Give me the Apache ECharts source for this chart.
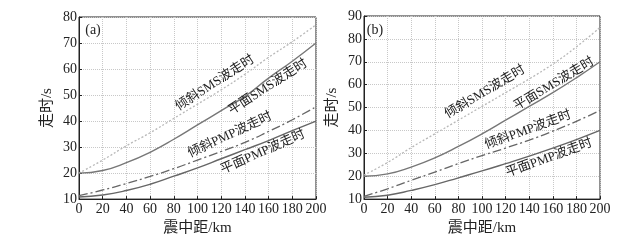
<!DOCTYPE html>
<html>
<head>
<meta charset="utf-8">
<script src="https://cdn.jsdelivr.net/npm/echarts@6/dist/echarts.min.js"></script>
<style>
  html, body { margin: 0; padding: 0; background: #fff; }
  #main { width: 632px; height: 241px; }
</style>
</head>
<body>
<div id="main"></div>
<script>
// epicentral distance, km
const dist = [0, 20, 40, 60, 80, 100, 120, 140, 160, 180, 200]

// panel (a) travel times, s
const aTiltSMS = [20, 25, 30.5, 35.5, 41, 46.5, 52, 58, 64.5, 70.5, 77]
const aFlatSMS = [20, 21, 24, 28, 33, 38.5, 44, 49.5, 56.5, 63, 70]
const aTiltPMP = [11.3, 13.5, 16, 18.7, 21.7, 25, 28.3, 31.8, 36, 40.5, 45.5]
const aFlatPMP = [10.8, 11.6, 13.3, 15.7, 18.8, 22, 25.5, 29, 32.5, 36.3, 40]

// panel (b) travel times, s
const bTiltSMS = [20.5, 26, 32.5, 38.5, 44.5, 50.5, 56.5, 62.5, 69, 76.5, 85]
const bFlatSMS = [20, 21, 24, 28, 33, 38.5, 44.5, 50.5, 56.5, 63, 70]
const bTiltPMP = [11.2, 14.5, 18.2, 21.8, 25.5, 29, 32.3, 35.8, 39.7, 44, 48.7]
const bFlatPMP = [10.8, 11.7, 13.8, 16.3, 19.3, 22.3, 25.5, 28.8, 32.3, 36, 40]

const names = ['倾斜SMS波走时', '平面SMS波走时', '倾斜PMP波走时', '平面PMP波走时']

const serif = '"Liberation Serif", "Noto Sans CJK SC", serif'

function pairs(ys) {
  return dist.map((d, i) => [d, ys[i]])
}

function xAx(idx) {
  return {
    gridIndex: idx, type: 'value', min: 0, max: 200, interval: 20,
    name: '震中距/km', nameLocation: 'middle', nameGap: 20,
    nameTextStyle: { fontFamily: serif, fontSize: 15, color: '#222' },
    axisLine: { lineStyle: { color: '#222' } },
    axisTick: { inside: true, length: 3, lineStyle: { color: '#222' } },
    axisLabel: { fontFamily: serif, fontSize: 14, color: '#222', margin: 3, showMaxLabel: true },
    splitLine: { show: true, lineStyle: { color: '#c8c8c8', type: 'dotted' } }
  }
}

function yAx(idx, max) {
  return {
    gridIndex: idx, type: 'value', min: 10, max: max, interval: 10,
    name: '走时/s', nameLocation: 'middle', nameGap: 24,
    nameTextStyle: { fontFamily: serif, fontSize: 15, color: '#222' },
    axisLine: { lineStyle: { color: '#222' } },
    axisTick: { inside: true, length: 3, lineStyle: { color: '#222' } },
    axisLabel: { fontFamily: serif, fontSize: 14, color: '#222', margin: 2 },
    splitLine: { show: true, lineStyle: { color: '#c8c8c8', type: 'dotted' } }
  }
}

function line(idx, ys, style) {
  return {
    type: 'line', xAxisIndex: idx, yAxisIndex: idx, data: pairs(ys),
    smooth: true, symbol: 'none', lineStyle: style, z: 3
  }
}

const sTilt = { color: '#b8b8b8', width: 1.3, type: [2, 2] }
const sFlat = { color: '#777', width: 1.4, type: 'solid' }
const pTilt = { color: '#666', width: 1.3, type: [9, 3, 2, 3] }
const pFlat = { color: '#666', width: 1.4, type: 'solid' }

function note(text, x, y, deg, size) {
  return {
    type: 'text', x: x, y: y, rotation: deg * Math.PI / 180, z: 10,
    style: {
      text: text, fontFamily: serif, fontSize: size || 13, fill: '#222',
      align: 'center', verticalAlign: 'middle'
    }
  }
}

var myChart = echarts.init(document.getElementById('main'), null, { renderer: 'canvas' })

var option = {
  animation: false,
  backgroundColor: '#fff',
  grid: [
    { left: 79, right: 316, top: 17, bottom: 40, show: true, borderColor: '#222', borderWidth: 1, backgroundColor: 'transparent' },
    { left: 364, right: 32, top: 16, bottom: 41, show: true, borderColor: '#222', borderWidth: 1, backgroundColor: 'transparent' }
  ],
  xAxis: [xAx(0), xAx(1)],
  yAxis: [yAx(0, 80), yAx(1, 90)],
  series: [
    line(0, aTiltSMS, sTilt), line(0, aFlatSMS, sFlat), line(0, aTiltPMP, pTilt), line(0, aFlatPMP, pFlat),
    line(1, bTiltSMS, sTilt), line(1, bFlatSMS, sFlat), line(1, bTiltPMP, pTilt), line(1, bFlatPMP, pFlat)
  ],
  graphic: [
    note('(a)', 93, 30, 0, 14),
    note(names[0], 215, 83, 33),
    note(names[1], 268, 87, 33),
    note(names[2], 230, 135, 25),
    note(names[3], 263, 152, 24),
    note('(b)', 375, 30, 0, 14),
    note(names[0], 485, 92, 31),
    note(names[1], 554, 84, 31),
    note(names[2], 528, 130, 20),
    note(names[3], 549, 158, 20)
  ]
}

myChart.setOption(option)
</script>
</body>
</html>
